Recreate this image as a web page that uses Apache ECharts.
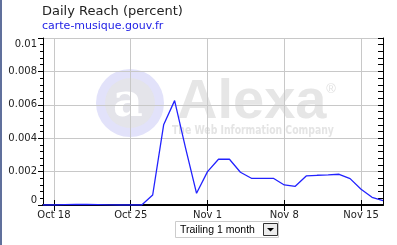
<!DOCTYPE html>
<html>
<head>
<meta charset="utf-8">
<script src="https://cdn.jsdelivr.net/npm/echarts@6/dist/echarts.min.js"></script>
<style>
html,body{margin:0;padding:0;background:#fff;}
#chart{width:397px;height:245px;}
</style>
</head>
<body>
<div id="chart"></div>
<script>
// ---- data ----
const categories = [
  "Oct 17","Oct 18","Oct 19","Oct 20","Oct 21","Oct 22","Oct 23","Oct 24","Oct 25","Oct 26",
  "Oct 27","Oct 28","Oct 29","Oct 30","Oct 31","Nov 1","Nov 2","Nov 3","Nov 4","Nov 5",
  "Nov 6","Nov 7","Nov 8","Nov 9","Nov 10","Nov 11","Nov 12","Nov 13","Nov 14","Nov 15",
  "Nov 16","Nov 17"
];
const reachValues = [
  0, 0, 0.00002, 0.00003, 0.00003, 0.00002, 0.00001, 0, 0, 0,
  0.0006, 0.0048, 0.00625, 0.0034, 0.0007, 0.0020, 0.00274, 0.00274, 0.00196, 0.0016,
  0.0016, 0.0016, 0.0012, 0.00112, 0.00174, 0.00178, 0.0018, 0.00184, 0.00158, 0.00094,
  0.00046, 0.00026
];
const xTickLabels = ["Oct 18","Oct 25","Nov 1","Nov 8","Nov 15"];
const yTickLabels = ["0","0.002","0.004","0.006","0.008","0.01"];
const titleText = "Daily Reach (percent)";
const siteText = "carte-musique.gouv.fr";
const rangeText = "Trailing 1 month";

const isTick = (i) => xTickLabels.indexOf(categories[i]) >= 0;
const FONT = '"DejaVu Sans", Verdana, sans-serif';

const chart = echarts.init(document.getElementById('chart'), null, {renderer:'canvas'});
chart.setOption({
  animation: false,
  backgroundColor: '#fff',
  title: {
    text: titleText,
    subtext: siteText,
    left: 37, top: 0, itemGap: 3,
    textStyle: {fontFamily: FONT, fontSize: 13, fontWeight: 'normal', color: '#222'},
    subtextStyle: {fontFamily: FONT, fontSize: 11, color: '#2323e6'}
  },
  grid: {left: 43, top: 38, right: 14, bottom: 40},
  xAxis: [{
    type: 'category', data: categories, boundaryGap: false, position: 'bottom',
    axisLine: {lineStyle: {color: '#000', width: 2}},
    axisTick: {inside: true, length: 5, interval: (i) => isTick(i), lineStyle: {color: '#000'}},
    axisLabel: {interval: (i) => isTick(i), color: '#222', fontFamily: FONT, fontSize: 10, margin: 5},
    splitLine: {show: true, interval: (i) => isTick(i), lineStyle: {color: '#c8c8c8', width: 1}}
  }, {
    type: 'category', data: categories, boundaryGap: false, position: 'top',
    axisLine: {lineStyle: {color: '#000', width: 1}},
    axisTick: {inside: true, length: 6, interval: (i) => isTick(i), lineStyle: {color: '#000'}},
    axisLabel: {show: false},
    splitLine: {show: false}
  }],
  yAxis: [{
    type: 'value', position: 'left', min: 0, max: 0.01, interval: 0.002,
    axisLine: {show: true, lineStyle: {color: '#000', width: 1}},
    axisTick: {show: true, inside: false, length: 5, lineStyle: {color: '#000'}},
    minorTick: {show: true, splitNumber: 5, length: 3, lineStyle: {color: '#000'}},
    splitLine: {show: true, lineStyle: {color: '#c8c8c8', width: 1}},
    axisLabel: {
      color: '#222', fontFamily: FONT, fontSize: 10, margin: 6,
      formatter: (v) => {
        const idx = Math.round(v / 0.002);
        const s = yTickLabels[idx];
        if (idx === 0) return '{lo|' + s + '}';
        if (idx === yTickLabels.length - 1) return '{hi|' + s + '}';
        return s;
      },
      rich: {
        lo: {fontFamily: FONT, fontSize: 10, color: '#222', padding: [0, 0, 10, 0]},
        hi: {fontFamily: FONT, fontSize: 10, color: '#222', padding: [12, 0, 0, 0]}
      }
    }
  }, {
    type: 'value', position: 'right', min: 0, max: 0.01, interval: 0.002,
    axisLine: {show: true, lineStyle: {color: '#000', width: 1}},
    axisTick: {show: true, inside: true, length: 5, lineStyle: {color: '#000'}},
    minorTick: {show: true, splitNumber: 5, length: 5, lineStyle: {color: '#000'}},
    splitLine: {show: false},
    axisLabel: {show: false}
  }],
  series: [{
    type: 'line', data: reachValues, xAxisIndex: 0, yAxisIndex: 0,
    showSymbol: false, symbol: 'none',
    lineStyle: {color: '#2222ff', width: 1.3},
    z: 3
  }],
  graphic: [
    {type: 'rect', z: 100, shape: {x: 0, y: 0, width: 2, height: 245}, style: {fill: '#60709c'}},
    // watermark
    {type: 'circle', z: -10, shape: {cx: 130, cy: 103, r: 34}, style: {fill: '#e2e2fa'}},
    {type: 'circle', z: -10, shape: {cx: 130, cy: 103, r: 25}, style: {fill: '#e4e4ea'}},
    {type: 'text', z: -9, x: 128, y: 104, style: {text: 'a', font: 'bold 46px "DejaVu Serif", serif', fill: '#ffffff', align: 'center', verticalAlign: 'middle'}},
    {type: 'text', z: -9, x: 177, y: 103, style: {text: 'Alexa', font: 'bold 56px "Liberation Sans", Arial, sans-serif', fill: '#e6e6e6', align: 'left', verticalAlign: 'middle'}},
    {type: 'text', z: -9, x: 331, y: 89, style: {text: '®', font: '13px "Liberation Sans", Arial, sans-serif', fill: '#e2e2e2', align: 'center', verticalAlign: 'middle'}},
    {type: 'text', z: -9, x: 172, y: 131, scaleX: 0.86, style: {text: 'The Web Information Company', font: 'bold 12px "DejaVu Sans Condensed", "DejaVu Sans", sans-serif', fill: '#e4e4e4', align: 'left', verticalAlign: 'middle'}},
    // range dropdown
    {type: 'rect', z: 100, shape: {x: 175.5, y: 221.5, width: 103, height: 16}, style: {fill: '#fff', stroke: '#cccccc', lineWidth: 1}},
    {type: 'text', z: 101, x: 180, y: 230, style: {text: rangeText, font: '10.5px "Liberation Sans", Tahoma, sans-serif', fill: '#000', align: 'left', verticalAlign: 'middle'}},
    {type: 'rect', z: 101, shape: {x: 263.5, y: 223.5, width: 14, height: 12}, style: {fill: '#ececec', stroke: '#333', lineWidth: 1}},
    {type: 'polygon', z: 102, shape: {points: [[267, 228], [274, 228], [270.5, 231.5]]}, style: {fill: '#000'}}
  ]
});
</script>
</body>
</html>
